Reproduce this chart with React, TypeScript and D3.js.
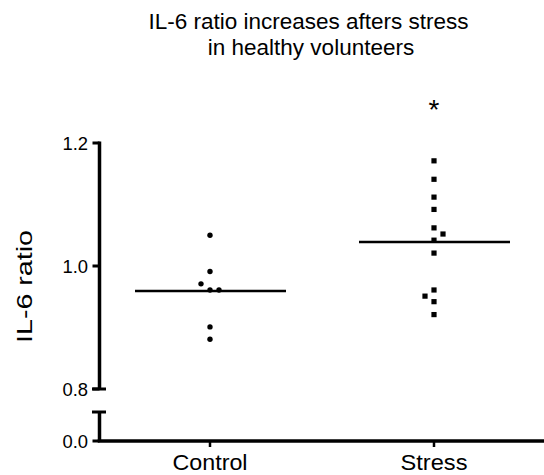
import React from 'react';
import * as d3 from 'd3';

// Data
const groups = ['Control', 'Stress'];
const controlValues = [1.050, 0.991, 0.971, 0.961, 0.961, 0.901, 0.881];
const controlJitter = [0, 0, -1, 0, 1, 0, 0];
const stressValues = [1.171, 1.141, 1.112, 1.092, 1.062, 1.052, 1.042, 1.021, 0.961, 0.951, 0.942, 0.921];
const stressJitter = [0, 0, 0, 0, 0, 1, 0, 0, 0, -1, 0, 0];
const upperTicks = [0.8, 1.0, 1.2];
const lowerTicks = [0.0];

const W = 544;
const H = 475;
const FONT = '"Liberation Sans", Arial, Helvetica, sans-serif';

export default function App() {
    const axisX = 99.5;
    const axisY = 441;

    // broken y axis: upper segment 0.8..1.2, lower stub at 0
    const yUpper = d3.scaleLinear().domain([0.8, 1.2]).range([389, 143]);
    const yLower = d3.scaleLinear().domain([0, 0.05]).range([axisY, 412]);

    const x = d3.scalePoint<string>().domain(groups).range([210, 434]);

    const series = [
        { name: 'Control', values: controlValues, jitter: controlJitter, shape: 'circle' },
        { name: 'Stress', values: stressValues, jitter: stressJitter, shape: 'square' },
    ];

    const tickLabel = (v: number) => d3.format('.1f')(v);

    return (
        <svg width={W} height={H} style={{ position: 'absolute', left: 0, top: 0 }} fontFamily={FONT}>
            <rect width={W} height={H} fill="#fff" />

            {/* title */}
            <text x={308.5} y={28.5} textAnchor="middle" fontSize={22.5} fill="#000">IL-6 ratio increases afters stress</text>
            <text x={311} y={54.5} textAnchor="middle" fontSize={22.5} fill="#000">in healthy volunteers</text>

            {/* y label */}
            <text transform={`translate(31.5,286.5) rotate(-90)`} textAnchor="middle" fontSize={22} fill="#000"
                textLength={113} lengthAdjust="spacingAndGlyphs">IL-6 ratio</text>

            {/* upper y segment */}
            <line x1={axisX} x2={axisX} y1={yUpper(1.2) - 1.5} y2={yUpper(0.8)} stroke="#000" strokeWidth={3.5} />
            <line x1={92} x2={106} y1={yUpper(0.8)} y2={yUpper(0.8)} stroke="#000" strokeWidth={3} />
            {upperTicks.map(t => (
                <g key={t}>
                    <line x1={axisX - 7} x2={axisX} y1={yUpper(t)} y2={yUpper(t)} stroke="#000" strokeWidth={3} />
                    <text x={88} y={yUpper(t) + 6.5} textAnchor="end" fontSize={18.4} fill="#000">{tickLabel(t)}</text>
                </g>
            ))}

            {/* lower y segment */}
            <line x1={axisX} x2={axisX} y1={412} y2={axisY} stroke="#000" strokeWidth={3.5} />
            <line x1={92} x2={106} y1={412} y2={412} stroke="#000" strokeWidth={3} />
            {lowerTicks.map(t => (
                <g key={t}>
                    <line x1={axisX - 7} x2={axisX} y1={yLower(t)} y2={yLower(t)} stroke="#000" strokeWidth={3} />
                    <text x={88} y={yLower(t) + 6.5} textAnchor="end" fontSize={18.4} fill="#000">{tickLabel(t)}</text>
                </g>
            ))}

            {/* x axis */}
            <line x1={axisX - 1.75} x2={W} y1={axisY} y2={axisY} stroke="#000" strokeWidth={3.5} />
            {groups.map(g => (
                <g key={g}>
                    <line x1={x(g)} x2={x(g)} y1={axisY} y2={axisY + 6} stroke="#000" strokeWidth={2.5} />
                    <text x={x(g)} y={470} textAnchor="middle" fontSize={22} fill="#000"
                        textLength={g === 'Control' ? 75 : 67} lengthAdjust="spacingAndGlyphs">{g}</text>
                </g>
            ))}

            {/* points and means */}
            {series.map(s => {
                const cx = x(s.name) as number;
                const mean = d3.mean(s.values) as number;
                return (
                    <g key={s.name}>
                        {s.values.map((v, i) => {
                            const px = cx + s.jitter[i] * 9;
                            const py = yUpper(v);
                            return s.shape === 'circle'
                                ? <circle key={i} cx={px} cy={py} r={2.7} fill="#000" />
                                : <rect key={i} x={px - 2.6} y={py - 2.6} width={5.2} height={5.2} fill="#000" />;
                        })}
                        <line x1={cx - 75} x2={cx + 76} y1={yUpper(mean)} y2={yUpper(mean)} stroke="#000" strokeWidth={2.5} />
                    </g>
                );
            })}

            {/* significance */}
            <text x={x('Stress')} y={119} textAnchor="middle" fontSize={28} fill="#000">*</text>
        </svg>
    );
}
